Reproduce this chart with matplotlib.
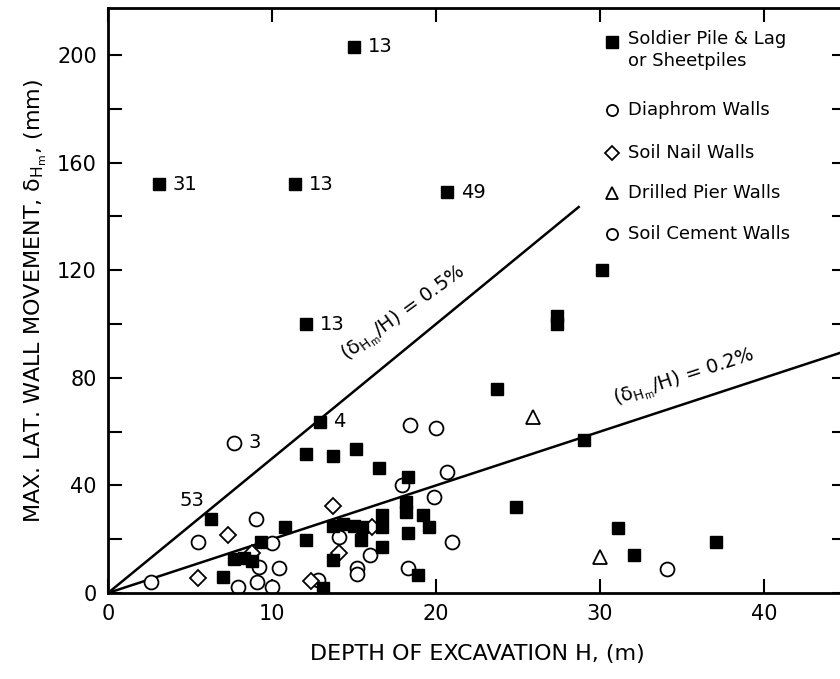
import matplotlib
matplotlib.use("Agg")
import matplotlib.pyplot as plt
from matplotlib.ticker import MultipleLocator

# ------------------------------------------------------
# Data: depth H (m), max lateral movement (mm)
pile_H = [15.0, 3.1, 11.4, 20.7, 12.1, 12.9, 6.3,
          30.1, 27.4, 27.4, 23.7, 29.0, 24.9, 31.1, 32.1, 37.1,
          12.1, 13.7, 15.1, 16.5, 18.3,
          7.0, 7.7, 8.3, 8.8, 9.3, 10.8, 12.1,
          13.7, 14.3, 15.0, 15.5, 13.7, 15.4,
          16.7, 16.7, 16.7, 18.2, 18.2, 18.3, 19.2, 19.6,
          18.9, 13.1]
pile_d = [203, 152, 152, 149, 100, 63.6, 27.5,
          120, 100, 103, 76, 57, 32, 24, 14, 19,
          51.5, 51, 53.5, 46.5, 43,
          6, 12.5, 13, 12, 19, 24.5, 19.7,
          25, 25.5, 25, 24.5, 12.3, 19.7,
          29, 24.5, 17, 34, 30, 22.3, 29, 24.5,
          6.7, 1.9]

diaph_H = [7.7, 5.5, 9.0, 2.6, 7.9, 9.1, 9.2, 10.4, 10.0, 10.0,
           12.8, 14.1, 15.2, 15.2, 16.0,
           18.4, 20.0, 20.7, 17.9, 19.9, 21.0, 18.3, 34.1]
diaph_d = [55.8, 19, 27.5, 4.1, 2.2, 4.1, 9.7, 9.3, 2.2, 18.6,
           4.8, 20.8, 9.3, 7, 14.1,
           62.5, 61.3, 45, 40, 35.7, 19, 9.3, 9]

nail_H = [7.3, 5.5, 13.7, 14.1, 12.4, 8.8, 16.1]
nail_d = [21.5, 5.5, 32.5, 14.9, 4.5, 15, 24.5]

pier_H = [25.9, 30.0]
pier_d = [65.4, 13.4]

# case numbers written next to some points
note_H = [15.0, 3.1, 11.4, 20.7, 12.1, 12.9, 7.7]
note_d = [203, 152, 152, 149, 100, 63.6, 55.8]
note_txt = ["13", "31", "13", "49", "13", "4", "3"]

# reference lines delta/H
ratio_hi = 0.005
ratio_hi_Hmax = 28.7
ratio_lo = 0.002
ratio_lo_Hmax = 45

# ------------------------------------------------------
plt.rcParams['font.family'] = 'DejaVu Sans'
plt.rcParams['mathtext.default'] = 'regular'

fig = plt.figure(figsize=(8.4, 6.79), dpi=100)
ax = fig.add_axes([108 / 840, 1 - 593 / 679, 738 / 840, 585 / 679])

# lines
ax.plot([0, ratio_hi_Hmax], [0, ratio_hi * ratio_hi_Hmax * 1000], color='black', lw=1.8)
ax.plot([0, ratio_lo_Hmax], [0, ratio_lo * ratio_lo_Hmax * 1000], color='black', lw=1.8)

# points
ax.plot(diaph_H, diaph_d, 'o', mfc='white', mec='black', mew=1.3, ms=10, ls='none')
ax.plot(nail_H, nail_d, 'D', mfc='white', mec='black', mew=1.3, ms=8, ls='none')
ax.plot(pier_H, pier_d, '^', mfc='white', mec='black', mew=1.3, ms=10, ls='none')
ax.plot(pile_H, pile_d, 's', color='black', ms=9, ls='none')

for h, d, t in zip(note_H, note_d, note_txt):
    ax.annotate(t, (h, d), xytext=(10, 0), textcoords='offset points',
                ha='left', va='center', fontsize=14)
ax.annotate("53", (6.3, 27.5), xytext=(-14, 13), textcoords='offset points',
            ha='center', va='center', fontsize=14)

ax.text(18.0, 104, r"($\delta_{H_m}$/H) = 0.5%", rotation=36, ha='center', va='center',
        fontsize=14)
ax.text(35.1, 80, r"($\delta_{H_m}$/H) = 0.2%", rotation=18, ha='center', va='center',
        fontsize=14)

# legend drawn by hand
leg_x = 0.683
leg_y = [0.942, 0.826, 0.752, 0.684, 0.614]
leg_txt = ["Soldier Pile & Lag\nor Sheetpiles", "Diaphrom Walls", "Soil Nail Walls",
           "Drilled Pier Walls", "Soil Cement Walls"]
leg_mk = [dict(marker='s', color='black', ms=9),
          dict(marker='o', mfc='white', mec='black', mew=1.3, ms=8),
          dict(marker='D', mfc='white', mec='black', mew=1.3, ms=7),
          dict(marker='^', mfc='white', mec='black', mew=1.3, ms=9),
          dict(marker='o', mfc='white', mec='black', mew=1.3, ms=8)]
for y, t, mk in zip(leg_y, leg_txt, leg_mk):
    ax.plot([leg_x], [y], transform=ax.transAxes, ls='none', clip_on=False, **mk)
    ax.text(leg_x + 0.022, y + (0.02 if '\n' in t else 0), t, transform=ax.transAxes,
            fontsize=13, va='top' if '\n' in t else 'center', ha='left', linespacing=1.25)

# axes
ax.set_xlim(0, 45)
ax.set_ylim(0, 217.5)
ax.xaxis.set_major_locator(MultipleLocator(10))
ax.yaxis.set_major_locator(MultipleLocator(40))
ax.yaxis.set_minor_locator(MultipleLocator(20))
ax.tick_params(which='both', direction='in', top=True, right=True, length=10, width=1.5,
               labelsize=15, pad=8)
for s in ax.spines.values():
    s.set_linewidth(2)

ax.set_xlabel("DEPTH OF EXCAVATION H, (m)", fontsize=16, labelpad=14)
ax.set_ylabel(r"MAX. LAT. WALL MOVEMENT, $\delta_{H_m}$, (mm)", fontsize=16, labelpad=6)

fig.savefig("out.png", dpi=100)
